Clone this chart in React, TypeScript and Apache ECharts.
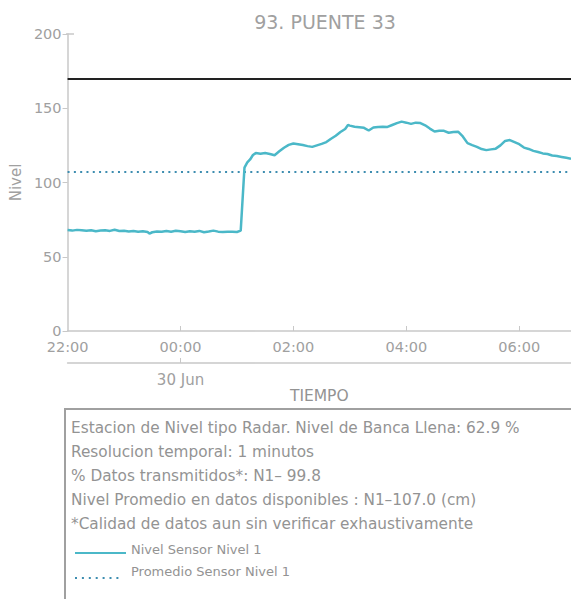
import React, { useEffect, useRef } from "react";
import * as echarts from "echarts";

const TITLE = "93. PUENTE 33";
const Y_NAME = "Nivel";
const X_NAME = "TIEMPO";
const DATE_LABEL = "30 Jun";
const X_START = "22:00";
const X_END = "06:55";
const MIDNIGHT = "00:00";
const X_TICKS = ["22:00", "00:00", "02:00", "04:00", "06:00"];
const Y_MIN = 0;
const Y_MAX = 200;
const Y_INTERVAL = 50;
const BANKFULL = 170;
const AVERAGE = 107;
const SERIES_NAMES = ["Nivel Sensor Nivel 1", "Promedio Sensor Nivel 1"];

const times = [
  "22:00", "22:05", "22:10", "22:15", "22:20", "22:25", "22:30", "22:35", "22:40", "22:45",
  "22:50", "22:55", "23:00", "23:05", "23:10", "23:15", "23:20", "23:25", "23:27", "23:30",
  "23:35", "23:40", "23:45", "23:50", "23:55", "00:00", "00:05", "00:10", "00:15", "00:20",
  "00:25", "00:30", "00:35", "00:40", "00:45", "00:50", "00:55", "01:00", "01:04", "01:08",
  "01:11", "01:14", "01:17", "01:20", "01:25", "01:30", "01:35", "01:40", "01:45", "01:50",
  "01:55", "02:00", "02:05", "02:10", "02:15", "02:20", "02:25", "02:30", "02:35", "02:40",
  "02:45", "02:50", "02:55", "02:58", "03:00", "03:05", "03:10", "03:15", "03:20", "03:25",
  "03:30", "03:35", "03:40", "03:45", "03:50", "03:55", "04:00", "04:05", "04:10", "04:15",
  "04:20", "04:25", "04:30", "04:35", "04:40", "04:45", "04:50", "04:55", "05:00", "05:05",
  "05:10", "05:15", "05:20", "05:25", "05:30", "05:35", "05:40", "05:45", "05:50", "05:55",
  "06:00", "06:05", "06:10", "06:15", "06:20", "06:25", "06:30", "06:35", "06:40", "06:45",
  "06:50", "06:55",
];

const nivel = [
  68.0, 67.6, 68.1, 67.8, 67.5, 67.9, 67.2, 67.6, 67.8, 67.4,
  68.2, 67.3, 67.5, 67.0, 67.4, 66.8, 67.2, 66.6, 65.6, 66.5,
  67.0, 66.8, 67.3, 66.9, 67.5, 67.1, 66.6, 67.2, 66.9, 67.4,
  66.5, 67.0, 67.6, 66.9, 66.6, 66.8, 66.9, 66.7, 67.6, 110.0,
  113.5, 115.5, 118.5, 119.8, 119.4, 119.8, 119.2, 118.4, 121.0, 123.4,
  125.3, 126.3, 125.8, 125.2, 124.5, 124.0, 125.0, 126.0, 127.2, 129.5,
  131.5, 134.0, 136.0, 138.7, 138.3, 137.5, 137.2, 136.8, 135.0, 137.0,
  137.4, 137.6, 137.4, 138.7, 140.0, 141.0, 140.3, 139.5, 140.3, 140.0,
  138.5, 136.3, 134.3, 134.9, 134.8, 133.5, 134.0, 134.2, 131.0, 126.5,
  125.2, 124.0, 122.5, 121.8, 122.3, 122.8, 125.0, 128.0, 128.6, 127.2,
  125.8, 123.5, 122.6, 121.3, 120.5, 119.6, 119.2, 118.2, 117.8, 117.2,
  116.6, 116.0,
];

const INFO_LINES = [
  "Estacion de Nivel tipo Radar. Nivel de Banca Llena: 62.9 %",
  "Resolucion temporal: 1 minutos",
  "% Datos transmitidos*: N1\u2013 99.8",
  "Nivel Promedio en datos disponibles : N1\u2013107.0 (cm)",
  "*Calidad de datos aun sin verificar exhaustivamente",
];

function toTs(hhmm: string): number {
  const [h, m] = hhmm.split(":").map(Number);
  const day = h >= 12 ? 29 : 30;
  return new Date(2024, 5, day, h, m).getTime();
}

const FONT = "'DejaVu Sans', sans-serif";
const GRAY = "#a0a0a0";
const TEXT_GRAY = "#939393";
const AXIS_GRAY = "#c8c8c8";
const TEAL = "#4bb8c8";
const DOT_BLUE = "#3d8db0";

const LEGEND_SOLID_ICON = "path://M0,0M51,16M0,11h51v2h-51z";
const LEGEND_DOT_ICON =
  "path://M0,0M51,16M0,14h2v2h-2zM6.9,14h2v2h-2zM13.8,14h2v2h-2zM20.7,14h2v2h-2zM27.6,14h2v2h-2zM34.5,14h2v2h-2zM41.4,14h2v2h-2z";

export default function App() {
  const ref = useRef<HTMLDivElement>(null);

  useEffect(() => {
    if (!ref.current) return;
    const chart = echarts.init(ref.current, undefined, { renderer: "svg" });
    const xMin = toTs(X_START);
    const xMax = toTs(X_END);
    const tickVals = X_TICKS.map(toTs);
    const midnight = toTs(MIDNIGHT);

    const pad = (n: number) => (n < 10 ? "0" + n : "" + n);
    const fmtTime = (v: number) => {
      const d = new Date(v);
      return pad(d.getHours()) + ":" + pad(d.getMinutes());
    };

    const option: any = {
      animation: false,
      textStyle: { fontFamily: FONT },
      title: {
        text: TITLE,
        left: 320,
        top: 7,
        textAlign: "center",
        textStyle: { color: GRAY, fontSize: 19, fontWeight: "normal", fontFamily: FONT },
      },
      grid: { left: 66, right: 0, top: 34, bottom: 268, containLabel: false },
      legend: {
        orient: "vertical",
        left: 70,
        top: 536,
        itemWidth: 51,
        itemHeight: 16,
        itemGap: 6,
        data: [
          { name: SERIES_NAMES[0], icon: LEGEND_SOLID_ICON, itemStyle: { color: TEAL, borderWidth: 0 } },
          { name: SERIES_NAMES[1], icon: LEGEND_DOT_ICON, itemStyle: { color: DOT_BLUE, borderWidth: 0 } },
        ],
        textStyle: { color: TEXT_GRAY, fontSize: 13, fontFamily: FONT },
      },
      xAxis: [
        {
          type: "value",
          min: xMin,
          max: xMax,
          axisLine: { show: true, onZero: false, lineStyle: { color: AXIS_GRAY, width: 1.5 } },
          axisTick: { show: true, inside: true, length: 5, customValues: tickVals.slice(1), lineStyle: { color: AXIS_GRAY } },
          axisLabel: {
            customValues: tickVals,
            color: GRAY,
            fontSize: 14.5,
            margin: 8,
            fontFamily: FONT,
            formatter: (v: number) => fmtTime(v),
          },
          splitLine: { show: false },
        },
        {
          type: "value",
          min: xMin,
          max: xMax,
          position: "bottom",
          offset: 32,
          name: X_NAME,
          nameLocation: "middle",
          nameGap: 25,
          nameTextStyle: { color: TEXT_GRAY, fontSize: 15.5, fontFamily: FONT },
          axisLine: { show: true, onZero: false, lineStyle: { color: AXIS_GRAY, width: 1.5 } },
          axisTick: { show: true, inside: true, length: 5, customValues: [midnight], lineStyle: { color: AXIS_GRAY } },
          axisLabel: {
            customValues: [midnight],
            color: GRAY,
            fontSize: 15,
            margin: 9,
            fontFamily: FONT,
            formatter: () => DATE_LABEL,
          },
          splitLine: { show: false },
        },
      ],
      yAxis: {
        type: "value",
        min: Y_MIN,
        max: Y_MAX,
        interval: Y_INTERVAL,
        name: Y_NAME,
        nameLocation: "middle",
        nameGap: 43,
        nameTextStyle: { color: GRAY, fontSize: 15, fontFamily: FONT },
        axisLine: { show: true, lineStyle: { color: AXIS_GRAY, width: 1.5 } },
        axisTick: { show: true, inside: false, length: 5, lineStyle: { color: AXIS_GRAY } },
        axisLabel: { color: GRAY, fontSize: 14.5, margin: 6, fontFamily: FONT },
        splitLine: { show: false },
      },
      series: [
        {
          name: SERIES_NAMES[0],
          type: "line",
          xAxisIndex: 0,
          symbol: "none",
          showSymbol: false,
          color: TEAL,
          lineStyle: { color: TEAL, width: 2.5 },
          data: times.map((t, i) => [toTs(t), nivel[i]]),
          markLine: {
            silent: true,
            symbol: ["none", "none"],
            label: { show: false },
            lineStyle: { color: "#222222", width: 2, type: "solid" },
            data: [{ yAxis: BANKFULL }],
          },
          z: 3,
        },
        {
          name: SERIES_NAMES[1],
          type: "line",
          xAxisIndex: 0,
          symbol: "none",
          showSymbol: false,
          color: DOT_BLUE,
          lineStyle: { color: DOT_BLUE, width: 2, type: [2, 4.3] },
          data: [
            [xMin, AVERAGE],
            [xMax, AVERAGE],
          ],
          z: 2,
        },
      ],
      graphic: [
        {
          type: "line",
          shape: { x1: 66, y1: 34, x2: 74, y2: 34 },
          style: { stroke: AXIS_GRAY, lineWidth: 1.5 },
        },
        {
          type: "rect",
          shape: { x: 65, y: 409, width: 540, height: 220 },
          style: { fill: "none", stroke: "#a0a0a0", lineWidth: 2 },
        },
        ...INFO_LINES.map((line, i) => ({
          type: "text",
          x: 71,
          y: 428 + i * 23.9,
          style: {
            text: line,
            fill: TEXT_GRAY,
            fontSize: 15.3,
            fontFamily: FONT,
            verticalAlign: "middle",
            align: "left",
          },
        })),
      ],
    };

    chart.setOption(option);
    return () => chart.dispose();
  }, []);

  return (
    <div
      ref={ref}
      style={{ position: "absolute", left: 0, top: 0, width: 571, height: 599 }}
    />
  );
}
